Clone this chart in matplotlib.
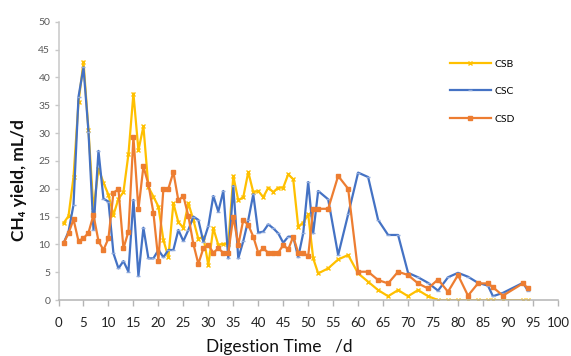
import numpy as np
import matplotlib
matplotlib.use("Agg")
import matplotlib.pyplot as plt

plt.rcParams['font.family'] = ['Lato', 'DejaVu Sans']

# sampling days: daily to day 52, then roughly every second day
days = list(range(1, 53)) + [54, 56, 58, 60, 62, 64, 66, 68, 70, 72, 74, 76,
                             78, 80, 82, 84, 86, 87, 89, 93, 94]

csb = [13.8, 15.1, 22.1, 35.5, 42.8, 30.5, 16.2, 23.6, 21.1, 18.9,
       15.3, 18.2, 19.4, 26.2, 37.1, 26.9, 31.2, 20.3, 18.6, 16.8,
       10.8, 7.7, 17.4, 14.0, 13.0, 17.4, 14.4, 11.0, 11.4, 6.3,
       12.9, 9.9, 10.1, 10.1, 22.3, 17.9, 18.5, 23.0, 19.4, 19.6,
       18.5, 20.2, 19.4, 20.2, 20.2, 22.6, 21.7, 13.2, 13.9, 15.4,
       7.5, 4.8,
       5.7, 7.3, 8.1, 4.8, 3.3, 1.8, 0.7, 1.8, 0.7, 1.8, 0.7, 0.0,
       0.0, 0.0, 0.0, 0.0, 0.0, 0.0, 0.0, 0.0, 0.0]

csc = [10.2, 12.3, 17.1, 36.5, 41.8, 30.2, 12.6, 26.8, 18.2, 17.7,
       8.4, 5.7, 7.0, 5.1, 18.0, 4.3, 13.0, 7.5, 7.5, 9.0,
       7.7, 9.0, 9.0, 12.6, 10.6, 12.6, 15.0, 14.4, 10.5, 13.3,
       18.7, 15.9, 19.6, 7.5, 20.5, 7.5, 10.6, 14.4, 19.0, 12.1,
       12.3, 13.6, 12.9, 12.0, 10.3, 11.4, 11.4, 7.7, 12.0, 21.2,
       12.0, 19.6,
       18.1, 8.1, 15.4, 22.9, 22.1, 14.4, 11.7, 11.7, 4.9, 4.1, 3.1, 1.7,
       4.1, 4.9, 4.2, 3.1, 2.6, 0.7, 1.3, 3.1, 1.7]

csd = [10.2, 12.0, 14.5, 10.6, 11.1, 12.1, 15.3, 10.6, 9.0, 11.1,
       19.3, 19.9, 9.3, 12.3, 29.3, 16.3, 24.0, 20.8, 15.7, 7.1,
       20.0, 20.0, 23.0, 17.9, 18.7, 15.1, 10.1, 6.5, 9.3, 9.9,
       8.5, 9.3, 8.5, 8.5, 15.0, 9.9, 14.4, 13.5, 11.4, 8.5,
       9.3, 8.5, 8.5, 8.5, 9.9, 9.1, 11.4, 8.5, 8.5, 7.9,
       16.4, 16.4,
       16.4, 22.3, 20.0, 5.1, 5.1, 3.6, 3.0, 5.1, 4.5, 3.0, 2.1, 3.7,
       1.5, 4.5, 0.8, 3.0, 3.0, 2.3, 0.8, 3.0, 2.1]

fig = plt.figure(figsize=(5.71, 3.56), dpi=100)
ax = fig.add_axes([0.1025, 0.157, 0.8745, 0.782])

ax.plot(days, csb, color='#FFC000', lw=1.6, marker='x', ms=3.5, mew=1.0,
        label='CSB')
ax.plot(days, csc, color='#4472C4', lw=1.6, marker='_', ms=3, mew=1.0,
        mec='#8FAADC', label='CSC')
ax.plot(days, csd, color='#ED7D31', lw=1.6, marker='s', ms=3.2,
        label='CSD')

ax.set_xlim(0, 100)
ax.set_ylim(0, 50)
ax.set_xticks(np.arange(0, 101, 5))
ax.set_yticks(np.arange(0, 51, 5))

for s in ['top', 'right']:
    ax.spines[s].set_visible(False)
ax.spines['left'].set_color('#c8c8c8')
ax.spines['bottom'].set_color('#b4b4b4')
ax.spines['left'].set_linewidth(1.1)
ax.spines['bottom'].set_linewidth(1.1)

ax.tick_params(axis='x', direction='out', length=4, width=1, color='#b4b4b4',
               labelsize=9.5, labelcolor='#222222', pad=8)
ax.tick_params(axis='y', direction='out', length=3, width=1, color='#c8c8c8',
               labelsize=7.5, labelcolor='#595959', pad=3)

ax.set_xlabel('Digestion Time   /d', fontsize=12.5, color='#111111')
ax.xaxis.set_label_coords(0.443, -0.14)
ax.set_ylabel('CH\u2084 yield, mL/d', fontsize=12.5, fontweight='bold',
              color='#111111')
ax.yaxis.set_label_coords(-0.08, 0.43)
ax.yaxis.label.set_va('center')

ax.legend(loc='upper left', bbox_to_anchor=(0.784, 0.865), frameon=False,
          fontsize=7.5, handlelength=3.9, labelspacing=1.75,
          handletextpad=0.4, borderpad=0, borderaxespad=0)

fig.savefig('out.png', dpi=100)
